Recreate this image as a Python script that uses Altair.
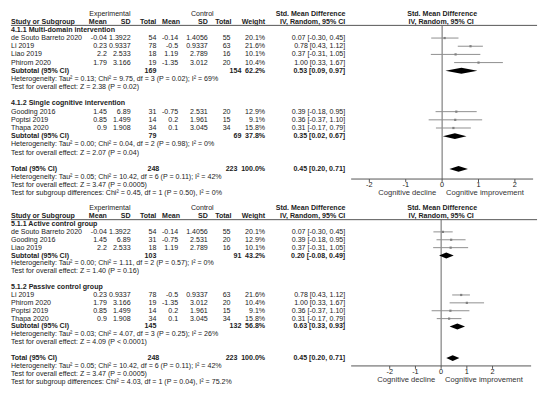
import altair as alt
import pandas as pd

# ---------------- data ----------------
names = ["de Souto Barreto 2020", "Li 2019", "Liao 2019", "Phirom 2020",
         "Gooding 2016", "Poptsi 2019", "Thapa 2020"]
exp_mean = [-0.04, 0.23, 2.2, 1.79, 1.45, 0.85, 0.9]
exp_sd = [1.3922, 0.9337, 2.533, 3.166, 6.89, 1.499, 1.908]
exp_n = [54, 78, 18, 19, 31, 14, 34]
ctl_mean = [-0.14, -0.5, 1.19, -1.35, -0.75, 0.2, 0.1]
ctl_sd = [1.4056, 0.9337, 2.789, 3.012, 2.531, 1.961, 3.045]
ctl_n = [55, 63, 16, 20, 20, 15, 34]
weights = ["20.1%", "21.6%", "10.1%", "10.4%", "12.9%", "9.1%", "15.8%"]
smd = [0.07, 0.78, 0.37, 1.00, 0.39, 0.36, 0.31]
smd_lo = [-0.30, 0.43, -0.31, 0.33, -0.18, -0.37, -0.17]
smd_hi = [0.45, 1.12, 1.05, 1.67, 0.95, 1.10, 0.79]

top_groups = [
    dict(title="4.1.1 Multi-domain intervention", idx=[0, 1, 2, 3],
         ne=169, nc=154, w="62.2%", est=0.53, lo=0.09, hi=0.97,
         het="Heterogeneity: Tau\u00b2 = 0.13; Chi\u00b2 = 9.75, df = 3 (P = 0.02); I\u00b2 = 69%",
         test="Test for overall effect: Z = 2.38 (P = 0.02)"),
    dict(title="4.1.2 Single cognitive intervention", idx=[4, 5, 6],
         ne=79, nc=69, w="37.8%", est=0.35, lo=0.02, hi=0.67,
         het="Heterogeneity: Tau\u00b2 = 0.00; Chi\u00b2 = 0.04, df = 2 (P = 0.98); I\u00b2 = 0%",
         test="Test for overall effect: Z = 2.07 (P = 0.04)"),
]
bot_groups = [
    dict(title="5.1.1 Active control group", idx=[0, 4, 2],
         ne=103, nc=91, w="43.2%", est=0.20, lo=-0.08, hi=0.49,
         het="Heterogeneity: Tau\u00b2 = 0.00; Chi\u00b2 = 1.11, df = 2 (P = 0.57); I\u00b2 = 0%",
         test="Test for overall effect: Z = 1.40 (P = 0.16)"),
    dict(title="5.1.2 Passive control group", idx=[1, 3, 5, 6],
         ne=145, nc=132, w="56.8%", est=0.63, lo=0.33, hi=0.93,
         het="Heterogeneity: Tau\u00b2 = 0.03; Chi\u00b2 = 4.07, df = 3 (P = 0.25); I\u00b2 = 26%",
         test="Test for overall effect: Z = 4.09 (P < 0.0001)"),
]
total = dict(ne=248, nc=223, w="100.0%", est=0.45, lo=0.20, hi=0.71,
             het="Heterogeneity: Tau\u00b2 = 0.05; Chi\u00b2 = 10.42, df = 6 (P = 0.11); I\u00b2 = 42%",
             test="Test for overall effect: Z = 3.47 (P = 0.0005)")
subgroup_tests = {
    "top": "Test for subgroup differences: Chi\u00b2 = 0.45, df = 1 (P = 0.50), I\u00b2 = 0%",
    "bot": "Test for subgroup differences: Chi\u00b2 = 4.03, df = 1 (P = 0.04), I\u00b2 = 75.2%",
}
tick_values = [-2, -1, 0, 1, 2]
tick_labels = ["-2", "-1", "0", "1", "2"]

# ---------------- layout / style ----------------
W, H = 540, 381
FONT = "Liberation Sans"
TXT = "#222222"
FS = 7.15


def py(page_y):
    return (page_y - 3.5) * (H - 1) / 386.0


def px(page_x):
    return page_x - 8


PANEL = {
    "top": dict(y0=7.0, dy=8.4, xdom=[-2.5, 2.5], xr=[px(355), px(539)],
                axis_row=20.24, ticklab_row=20.95, cog_row=22.0),
    "bot": dict(y0=207.0, dy=8.1, xdom=[-3.5, 3.5], xr=[px(355), px(537)],
                axis_row=20.0, ticklab_row=20.74, cog_row=21.8),
}

COLS = {
    "name": (px(11), "left"),
    "em": (px(108), "right"), "esd": (px(132), "right"), "en": (px(158), "right"),
    "cm": (px(180), "right"), "csd": (px(210), "right"), "cn": (px(233), "right"),
    "w": (px(268), "right"), "ci": (px(349), "right"),
    "cn_sub": (px(244), "right"),
    "en_tot": (px(161), "right"), "cn_tot": (px(240), "right"),
    "h_exp": (px(111), "center"), "h_ctl": (px(204.5), "center"),
    "h_smd1": (px(314), "center"), "h_smd2": (px(447), "center"),
    "h_iv1": (px(316), "center"), "h_iv2": (px(446), "center"),
    "h_cm": (px(182), "right"), "h_cn": (px(234), "right"),
}


def ci_text(e, l, h):
    return f"{e:.2f} [{l:.2f}, {h:.2f}]"


def build(groups, key):
    cells, forest, dia = [], [], []
    cells += [(0, "h_exp", "Experimental", False), (0, "h_ctl", "Control", False),
              (0, "h_smd1", "Std. Mean Difference", True),
              (0, "h_smd2", "Std. Mean Difference", True)]
    cells += [(1, "name", "Study or Subgroup", True), (1, "em", "Mean", True),
              (1, "esd", "SD", True), (1, "en", "Total", True),
              (1, "h_cm", "Mean", True), (1, "csd", "SD", True),
              (1, "h_cn", "Total", True), (1, "w", "Weight", True),
              (1, "h_iv1", "IV, Random, 95% CI", True),
              (1, "h_iv2", "IV, Random, 95% CI", True)]
    r = 2
    for g in groups:
        cells.append((r, "name", g["title"], True))
        r += 1
        for i in g["idx"]:
            cells += [(r, "name", names[i], False), (r, "em", str(exp_mean[i]), False),
                      (r, "esd", str(exp_sd[i]), False), (r, "en", str(exp_n[i]), False),
                      (r, "cm", str(ctl_mean[i]), False), (r, "csd", str(ctl_sd[i]), False),
                      (r, "cn", str(ctl_n[i]), False), (r, "w", weights[i], False),
                      (r, "ci", ci_text(smd[i], smd_lo[i], smd_hi[i]), False)]
            forest.append(dict(row=r, est=smd[i], lo=smd_lo[i], hi=smd_hi[i]))
            r += 1
        cells += [(r, "name", "Subtotal (95% CI)", True), (r, "en", str(g["ne"]), True),
                  (r, "cn_sub", str(g["nc"]), True), (r, "w", g["w"], True),
                  (r, "ci", ci_text(g["est"], g["lo"], g["hi"]), True)]
        dia.append(dict(id=r, row=r, est=g["est"], lo=g["lo"], hi=g["hi"]))
        r += 1
        cells.append((r, "name", g["het"], False)); r += 1
        cells.append((r, "name", g["test"], False)); r += 1
        r += 1
    cells += [(r, "name", "Total (95% CI)", True), (r, "en_tot", str(total["ne"]), True),
              (r, "cn_tot", str(total["nc"]), True), (r, "w", total["w"], True),
              (r, "ci", ci_text(total["est"], total["lo"], total["hi"]), True)]
    dia.append(dict(id=r, row=r, est=total["est"], lo=total["lo"], hi=total["hi"]))
    r += 1
    cells.append((r, "name", total["het"], False)); r += 1
    cells.append((r, "name", total["test"], False)); r += 1
    cells.append((r, "name", subgroup_tests[key], False))
    return cells, forest, dia


def panel_layers(groups, key):
    P = PANEL[key]
    ysc = alt.Scale(domain=[0, 22], range=[py(P["y0"]), py(P["y0"] + 22 * P["dy"])],
                    nice=False, zero=False)
    xsc = alt.Scale(domain=P["xdom"], range=P["xr"], nice=False, zero=False)
    cells, forest, dia = build(groups, key)
    cdf = pd.DataFrame(cells, columns=["row", "col", "text", "bold"])
    layers = []
    for (col, bold), sub in cdf.groupby(["col", "bold"]):
        x, align = COLS[col]
        layers.append(
            alt.Chart(sub[["row", "text"]]).mark_text(
                align=align, baseline="middle", font=FONT, fontSize=FS,
                fontWeight="bold" if bold else "normal", color=TXT
            ).encode(x=alt.value(x), y=alt.Y("row:Q", scale=ysc, axis=None),
                     text="text:N")
        )
    one = pd.DataFrame({"d": [0]})
    # header underline
    layers.append(alt.Chart(one).mark_rule(color="#555555", strokeWidth=1).encode(
        x=alt.value(px(11)), x2=alt.value(px(543)),
        y=alt.YDatum(1.45, type="quantitative", scale=ysc, axis=None)))
    # zero line
    layers.append(alt.Chart(one).mark_rule(color="#666666", strokeWidth=1).encode(
        x=alt.XDatum(0, type="quantitative", scale=xsc, axis=None),
        y=alt.YDatum(1.45, type="quantitative", scale=ysc, axis=None),
        y2=alt.Y2Datum(P["axis_row"])))
    # axis line
    layers.append(alt.Chart(one).mark_rule(color="#555555", strokeWidth=1).encode(
        x=alt.XDatum(P["xdom"][0], type="quantitative", scale=xsc, axis=None),
        x2=alt.X2Datum(P["xdom"][1]),
        y=alt.YDatum(P["axis_row"], type="quantitative", scale=ysc, axis=None)))
    tdf = pd.DataFrame({"v": tick_values, "lab": tick_labels})
    tick_len = 3.0 / P["dy"]
    layers.append(alt.Chart(tdf).mark_rule(color="#555555", strokeWidth=1).encode(
        x=alt.X("v:Q", scale=xsc, axis=None),
        y=alt.YDatum(P["axis_row"], type="quantitative", scale=ysc, axis=None),
        y2=alt.Y2Datum(P["axis_row"] + tick_len)))
    layers.append(alt.Chart(tdf).mark_text(
        font=FONT, fontSize=7.4, color=TXT, baseline="middle", align="center").encode(
        x=alt.X("v:Q", scale=xsc, axis=None),
        y=alt.YDatum(P["ticklab_row"], type="quantitative", scale=ysc, axis=None),
        text="lab:N"))
    layers.append(alt.Chart(one).mark_text(
        font=FONT, fontSize=7.7, color="#333333", baseline="middle", align="right", dx=-6,
        text="Cognitive decline").encode(
        x=alt.XDatum(0, type="quantitative", scale=xsc, axis=None),
        y=alt.YDatum(P["cog_row"], type="quantitative", scale=ysc, axis=None)))
    layers.append(alt.Chart(one).mark_text(
        font=FONT, fontSize=7.7, color="#333333", baseline="middle", align="left", dx=4,
        text="Cognitive improvement").encode(
        x=alt.XDatum(0, type="quantitative", scale=xsc, axis=None),
        y=alt.YDatum(P["cog_row"], type="quantitative", scale=ysc, axis=None)))
    # study CIs and point estimates
    fdf = pd.DataFrame(forest)
    layers.append(alt.Chart(fdf).mark_rule(color="#8f8f8f", strokeWidth=1).encode(
        x=alt.X("lo:Q", scale=xsc, axis=None), x2="hi:Q",
        y=alt.Y("row:Q", scale=ysc, axis=None)))
    layers.append(alt.Chart(fdf).mark_square(color="#808080", size=5, opacity=1).encode(
        x=alt.X("est:Q", scale=xsc, axis=None),
        y=alt.Y("row:Q", scale=ysc, axis=None)))
    # diamonds
    hh = 3.0 / P["dy"]
    pts = []
    for d in dia:
        pts += [dict(id=d["id"], x=d["lo"], y1=d["row"], y2=d["row"]),
                dict(id=d["id"], x=d["est"], y1=d["row"] - hh, y2=d["row"] + hh),
                dict(id=d["id"], x=d["hi"], y1=d["row"], y2=d["row"])]
    ddf = pd.DataFrame(pts)
    layers.append(alt.Chart(ddf).mark_area(color="black", orient="vertical",
                                           interpolate="linear").encode(
        x=alt.X("x:Q", scale=xsc, axis=None),
        y=alt.Y("y1:Q", scale=ysc, axis=None), y2="y2:Q",
        detail="id:N"))
    return layers


layers = panel_layers(top_groups, "top") + panel_layers(bot_groups, "bot")

chart = alt.layer(*layers).resolve_scale(x="independent", y="independent").properties(
    width=W, height=H, autosize=alt.AutoSizeParams(type="none"), padding=0,
    background="white"
).configure_view(stroke=None)

chart.save("out.html", embed_options={"renderer": "svg", "actions": False})
